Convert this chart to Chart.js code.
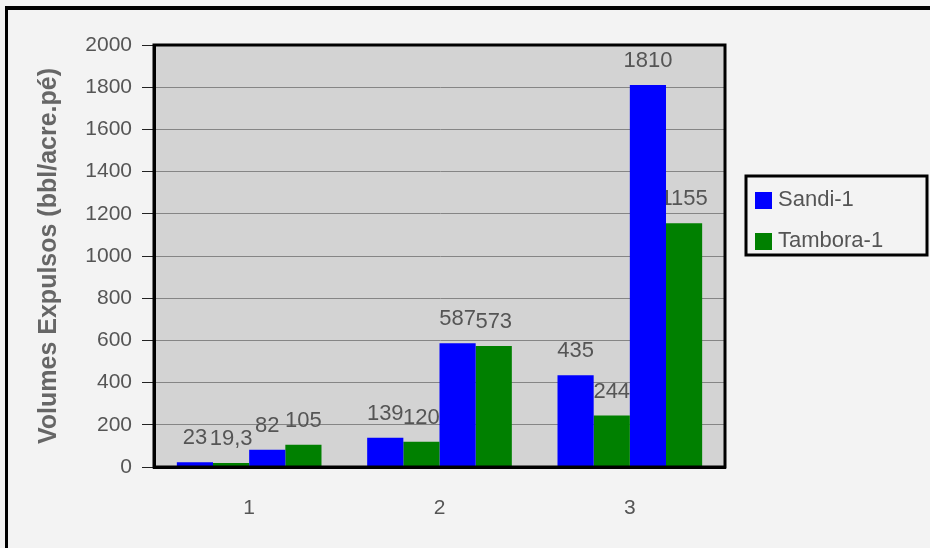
<!DOCTYPE html>
<html>
<head>
<meta charset="utf-8">
<script src="https://cdn.jsdelivr.net/npm/chart.js@4.4.1/dist/chart.umd.min.js"></script>
<style>
  html, body { margin: 0; padding: 0; background: #f3f3f3; }
  #wrap { position: relative; width: 930px; height: 548px; }
  canvas { display: block; }
</style>
</head>
<body>
<div id="wrap"><canvas id="chart" width="930" height="548"></canvas></div>
<script>
// Expelled volumes per interval, two wells, two bars each per group
const categories = ['1', '2', '3'];
const sandiFirst = [23, 139, 435];
const tamboraFirst = [19.3, 120, 244];
const sandiSecond = [82, 587, 1810];
const tamboraSecond = [105, 573, 1155];
const yTicks = [0, 200, 400, 600, 800, 1000, 1200, 1400, 1600, 1800, 2000];
const seriesNames = ['Sandi-1', 'Tambora-1'];

const BLUE = '#0000ff';
const GREEN = '#008000';
const TEXT = '#555555';
const FONT = '"Liberation Sans", Arial, Helvetica, sans-serif';

function fmt(v) {
  return String(v).replace('.', ',');
}

// page frame, plot background and legend box
const framePlugin = {
  id: 'frame',
  beforeDraw(chart) {
    const { ctx, chartArea: a } = chart;
    ctx.save();
    ctx.fillStyle = '#f3f3f3';
    ctx.fillRect(0, 0, chart.width, chart.height);
    ctx.fillStyle = '#000';
    ctx.fillRect(5, 6, chart.width - 5, 4);
    ctx.fillRect(5, 6, 3, chart.height - 6);
    ctx.fillStyle = '#d3d3d3';
    ctx.fillRect(a.left, a.top, a.right - a.left, a.bottom - a.top);
    ctx.restore();
  },
  afterDatasetsDraw(chart) {
    const { ctx, chartArea: a } = chart;
    ctx.save();
    ctx.strokeStyle = '#000';
    ctx.lineWidth = 3;
    ctx.strokeRect(a.left, a.top, a.right - a.left, a.bottom - a.top);
    ctx.restore();
  },
  afterDraw(chart) {
    const ctx = chart.ctx;
    ctx.save();
    ctx.strokeStyle = '#000';
    ctx.lineWidth = 3;
    ctx.strokeRect(746, 176, 181, 79);
    ctx.font = '22px ' + FONT;
    ctx.textBaseline = 'middle';
    ctx.textAlign = 'left';
    const colors = [BLUE, GREEN];
    const rows = [200, 241];
    seriesNames.forEach((name, i) => {
      ctx.fillStyle = colors[i];
      ctx.fillRect(755, rows[i] - 8, 17, 17);
      ctx.fillStyle = TEXT;
      ctx.fillText(name, 778, rows[i]);
    });
    ctx.restore();
  }
};

// value labels above each bar, painted beneath the bars
const valueLabels = {
  id: 'valueLabels',
  beforeDatasetsDraw(chart) {
    const ctx = chart.ctx;
    ctx.save();
    ctx.font = '22px ' + FONT;
    ctx.fillStyle = TEXT;
    ctx.textAlign = 'center';
    ctx.textBaseline = 'middle';
    chart.data.datasets.forEach((ds, di) => {
      const meta = chart.getDatasetMeta(di);
      meta.data.forEach((bar, i) => {
        ctx.fillText(fmt(ds.data[i]), bar.x, bar.y - 24);
      });
    });
    ctx.restore();
  }
};

new Chart(document.getElementById('chart'), {
  type: 'bar',
  data: {
    labels: categories,
    datasets: [
      { label: seriesNames[0], data: sandiFirst, backgroundColor: BLUE },
      { label: seriesNames[1], data: tamboraFirst, backgroundColor: GREEN },
      { label: seriesNames[0], data: sandiSecond, backgroundColor: BLUE },
      { label: seriesNames[1], data: tamboraSecond, backgroundColor: GREEN }
    ]
  },
  options: {
    responsive: false,
    animation: false,
    events: [],
    layout: { padding: { top: 45, right: 205, bottom: 0, left: 0 } },
    datasets: {
      bar: { categoryPercentage: 0.76, barPercentage: 1.0, borderWidth: 0 }
    },
    plugins: {
      legend: { display: false },
      tooltip: { enabled: false }
    },
    scales: {
      x: {
        afterFit(scale) { scale.height = 81; },
        grid: { display: false, drawTicks: false },
        border: { display: true, color: '#000', width: 3 },
        ticks: { color: TEXT, font: { family: FONT, size: 21 }, padding: 29 }
      },
      y: {
        min: 0,
        max: 2000,
        afterFit(scale) { scale.width = 154; },
        afterBuildTicks(scale) { scale.ticks = yTicks.map(v => ({ value: v })); },
        grid: { color: '#858585', lineWidth: 1, tickColor: '#222', tickLength: 12 },
        border: { display: true, color: '#000', width: 3 },
        ticks: {
          color: TEXT,
          font: { family: FONT, size: 21 },
          padding: 10,
          callback: (v) => String(v)
        },
        title: {
          display: true,
          text: 'Volumes Expulsos (bbl/acre.pé)',
          color: '#666',
          font: { family: FONT, size: 25, weight: 'bold' },
          padding: { top: 34, bottom: 0 }
        }
      }
    }
  },
  plugins: [framePlugin, valueLabels]
});
</script>
</body>
</html>
